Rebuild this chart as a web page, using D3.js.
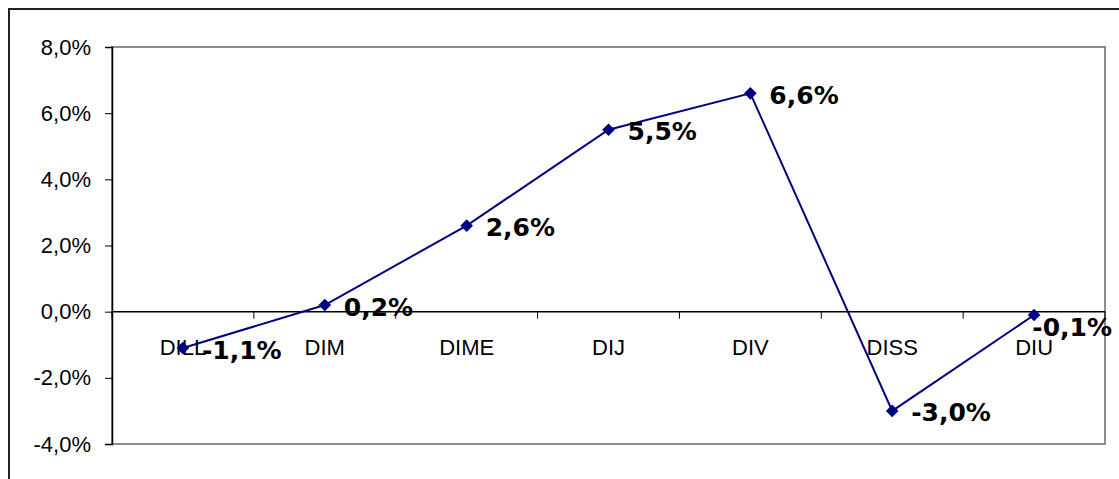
<!DOCTYPE html>
<html>
<head>
<meta charset="utf-8" />
<script src="https://cdn.jsdelivr.net/npm/d3@7"></script>
<style>
	body { margin: 0; background: #fff; }
	svg { display: block; }
</style>
</head>
<body>
<svg id="chart"></svg>
<script>
	const categories = ['DILL', 'DIM', 'DIME', 'DIJ', 'DIV', 'DISS', 'DIU'];
	const values = [-1.1, 0.2, 2.6, 5.5, 6.6, -3.0, -0.1];
	const yTicks = [8, 6, 4, 2, 0, -2, -4];

	const width = 1119;
	const height = 479;
	const plot = { left: 112, right: 1105, top: 47, bottom: 444 };
	const navy = '#000080';
	const fmt = (v) => v.toFixed(1).replace('.', ',') + '%';

	const svg = d3.select('#chart').attr('width', width).attr('height', height);

	// outer chart border (runs off the right and bottom of the window)
	svg.append('rect')
		.attr('x', 9).attr('y', 9)
		.attr('width', width + 20).attr('height', height + 20)
		.attr('fill', 'none').attr('stroke', '#222').attr('stroke-width', 2);

	const x = d3.scaleBand().domain(categories).range([plot.left, plot.right]);
	const y = d3.scaleLinear().domain([-4, 8]).range([plot.bottom, plot.top]);

	// plot area frame
	svg.append('rect')
		.attr('x', plot.left).attr('y', plot.top)
		.attr('width', plot.right - plot.left).attr('height', plot.bottom - plot.top)
		.attr('fill', 'none').attr('stroke', '#8c8c8c').attr('stroke-width', 2);

	// y axis
	const yAxis = svg.append('g')
		.attr('transform', `translate(${plot.left},0)`)
		.call(d3.axisLeft(y).tickValues(yTicks).tickFormat(fmt).tickSize(7).tickPadding(14));
	yAxis.select('.domain').attr('stroke', '#000').attr('stroke-width', 1.5);
	yAxis.selectAll('.tick line').attr('stroke', '#000');
	yAxis.selectAll('text')
		.attr('font-family', 'Liberation Sans, Arial, sans-serif')
		.attr('font-size', 22).attr('fill', '#000');

	// category axis at zero, ticks between categories
	const zeroY = y(0);
	svg.append('line')
		.attr('x1', plot.left).attr('x2', plot.right)
		.attr('y1', zeroY).attr('y2', zeroY)
		.attr('stroke', '#000').attr('stroke-width', 1.5);
	const bounds = d3.range(categories.length + 1).map((i) => plot.left + i * x.step());
	svg.selectAll('.cat-tick').data(bounds).enter().append('line')
		.attr('x1', (d) => d).attr('x2', (d) => d)
		.attr('y1', zeroY).attr('y2', zeroY + 7)
		.attr('stroke', '#000');
	svg.selectAll('.cat-label').data(categories).enter().append('text')
		.attr('x', (d) => x(d) + x.bandwidth() / 2)
		.attr('y', zeroY + 43)
		.attr('text-anchor', 'middle')
		.attr('font-family', 'Liberation Sans, Arial, sans-serif')
		.attr('font-size', 22)
		.text((d) => d);

	const pts = categories.map((c, i) => ({ c, v: values[i], px: x(c) + x.bandwidth() / 2, py: y(values[i]) }));

	svg.append('path')
		.datum(pts)
		.attr('d', d3.line().x((d) => d.px).y((d) => d.py))
		.attr('fill', 'none').attr('stroke', navy).attr('stroke-width', 2);

	svg.selectAll('.marker').data(pts).enter().append('path')
		.attr('d', d3.symbol().type(d3.symbolSquare).size(80))
		.attr('transform', (d) => `translate(${d.px},${d.py}) rotate(45)`)
		.attr('fill', navy);

	// data labels, pushed back inside the chart if they run past the right edge
	svg.selectAll('.dlabel').data(pts).enter().append('text')
		.attr('font-family', 'DejaVu Sans, Verdana, sans-serif')
		.attr('font-weight', 'bold')
		.attr('font-size', 25)
		.attr('dominant-baseline', 'central')
		.text((d) => fmt(d.v))
		.each(function (d) {
			const w = this.getComputedTextLength();
			let lx = d.px + 19;
			let ly = d.py + 2;
			if (lx + w > 1112) {
				lx = 1112 - w;
				ly = d.py + 13;
			}
			d3.select(this).attr('x', lx).attr('y', ly);
		});
</script>
</body>
</html>
